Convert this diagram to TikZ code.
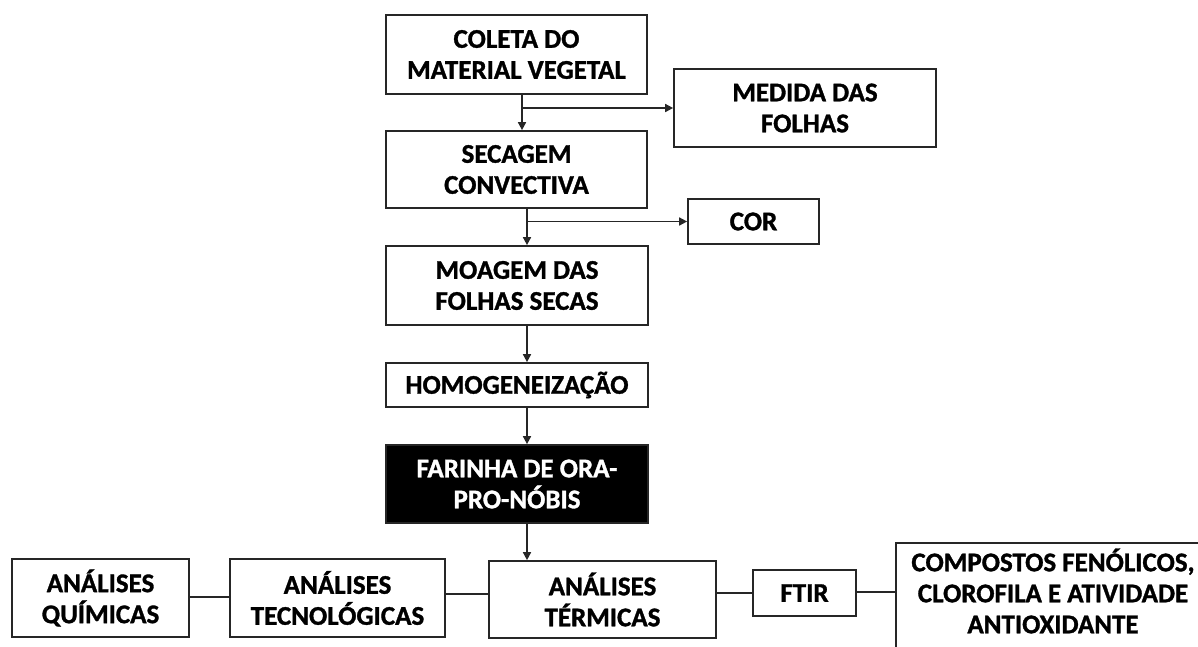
\documentclass[tikz,border=0pt]{standalone}
\usepackage{fontspec}
\setmainfont{Carlito}[BoldFeatures={FakeBold=1.2}]
\usetikzlibrary{arrows.meta}
\tikzset{
  box/.style={draw=black!85, line width=1.7pt, align=center, inner sep=0pt,
    font=\bfseries\fontsize{27}{31}\selectfont},
  conn/.style={line width=1.6pt, draw=black!85},
  arr/.style={conn, -{Triangle[length=8pt,width=8pt]}},
}
\begin{document}
\begin{tikzpicture}[x=1pt,y=-1pt]
\useasboundingbox (0,0) rectangle (1198,646);
\clip (0,0) rectangle (1198,646);
\node[box, minimum width=261, minimum height=79] (coleta) at (516.5,54.5) {COLETA DO\\MATERIAL VEGETAL};
\node[box, minimum width=262, minimum height=78] (medida) at (805,108) {MEDIDA DAS\\FOLHAS};
\node[box, minimum width=261, minimum height=77] (secagem) at (516.5,169.5) {SECAGEM\\CONVECTIVA};
\node[box, minimum width=131, minimum height=45] (cor) at (753.5,221.5) {COR};
\node[box, minimum width=262, minimum height=79] (moagem) at (517,285.5) {MOAGEM DAS\\FOLHAS SECAS};
\node[box, minimum width=262, minimum height=44] (homog) at (517,385) {HOMOGENEIZAÇÃO};
\node[box, fill=black, text=white, minimum width=262, minimum height=78] (farinha) at (517,484) {FARINHA DE ORA-\\PRO-NÓBIS};
\node[box, minimum width=227, minimum height=77] (termicas) at (602.5,599.5) {ANÁLISES\\TÉRMICAS};
\node[box, minimum width=215, minimum height=78] (tecno) at (337.5,598) {ANÁLISES\\TECNOLÓGICAS};
\node[box, minimum width=177, minimum height=78] (quimicas) at (100.5,598) {ANÁLISES\\QUÍMICAS};
\node[box, minimum width=103, minimum height=46] (ftir) at (804.5,593) {FTIR};
\node[box, minimum width=314, minimum height=110] (comp) at (1053,598) {};
\node[box, draw=none] (comptext) at (1053,591) {COMPOSTOS FENÓLICOS,\\CLOROFILA E ATIVIDADE\\ANTIOXIDANTE};

\coordinate (b1) at (522,108);
\coordinate (b2) at (527,221.5);
\coordinate (vx) at (527,0);
\draw[arr] (coleta.south -| b1) -- (secagem.north -| b1);
\draw[arr] (b1) -- (medida.west |- b1);
\draw[arr] (secagem.south -| b2) -- (moagem.north -| b2);
\draw[arr] (b2) -- (cor.west |- b2);
\draw[arr] (moagem.south -| vx) -- (homog.north -| vx);
\draw[arr] (homog.south -| vx) -- (farinha.north -| vx);
\draw[arr] (farinha.south -| vx) -- (termicas.north -| vx);
\coordinate (l1) at (0,597);
\coordinate (l2) at (0,594);
\coordinate (l3) at (0,593);
\coordinate (l4) at (0,592);
\draw[conn] (quimicas.east |- l1) -- (tecno.west |- l1);
\draw[conn] (tecno.east |- l2) -- (termicas.west |- l2);
\draw[conn] (termicas.east |- l3) -- (ftir.west |- l3);
\draw[conn] (ftir.east |- l4) -- (comp.west |- l4);
\end{tikzpicture}
\end{document}
